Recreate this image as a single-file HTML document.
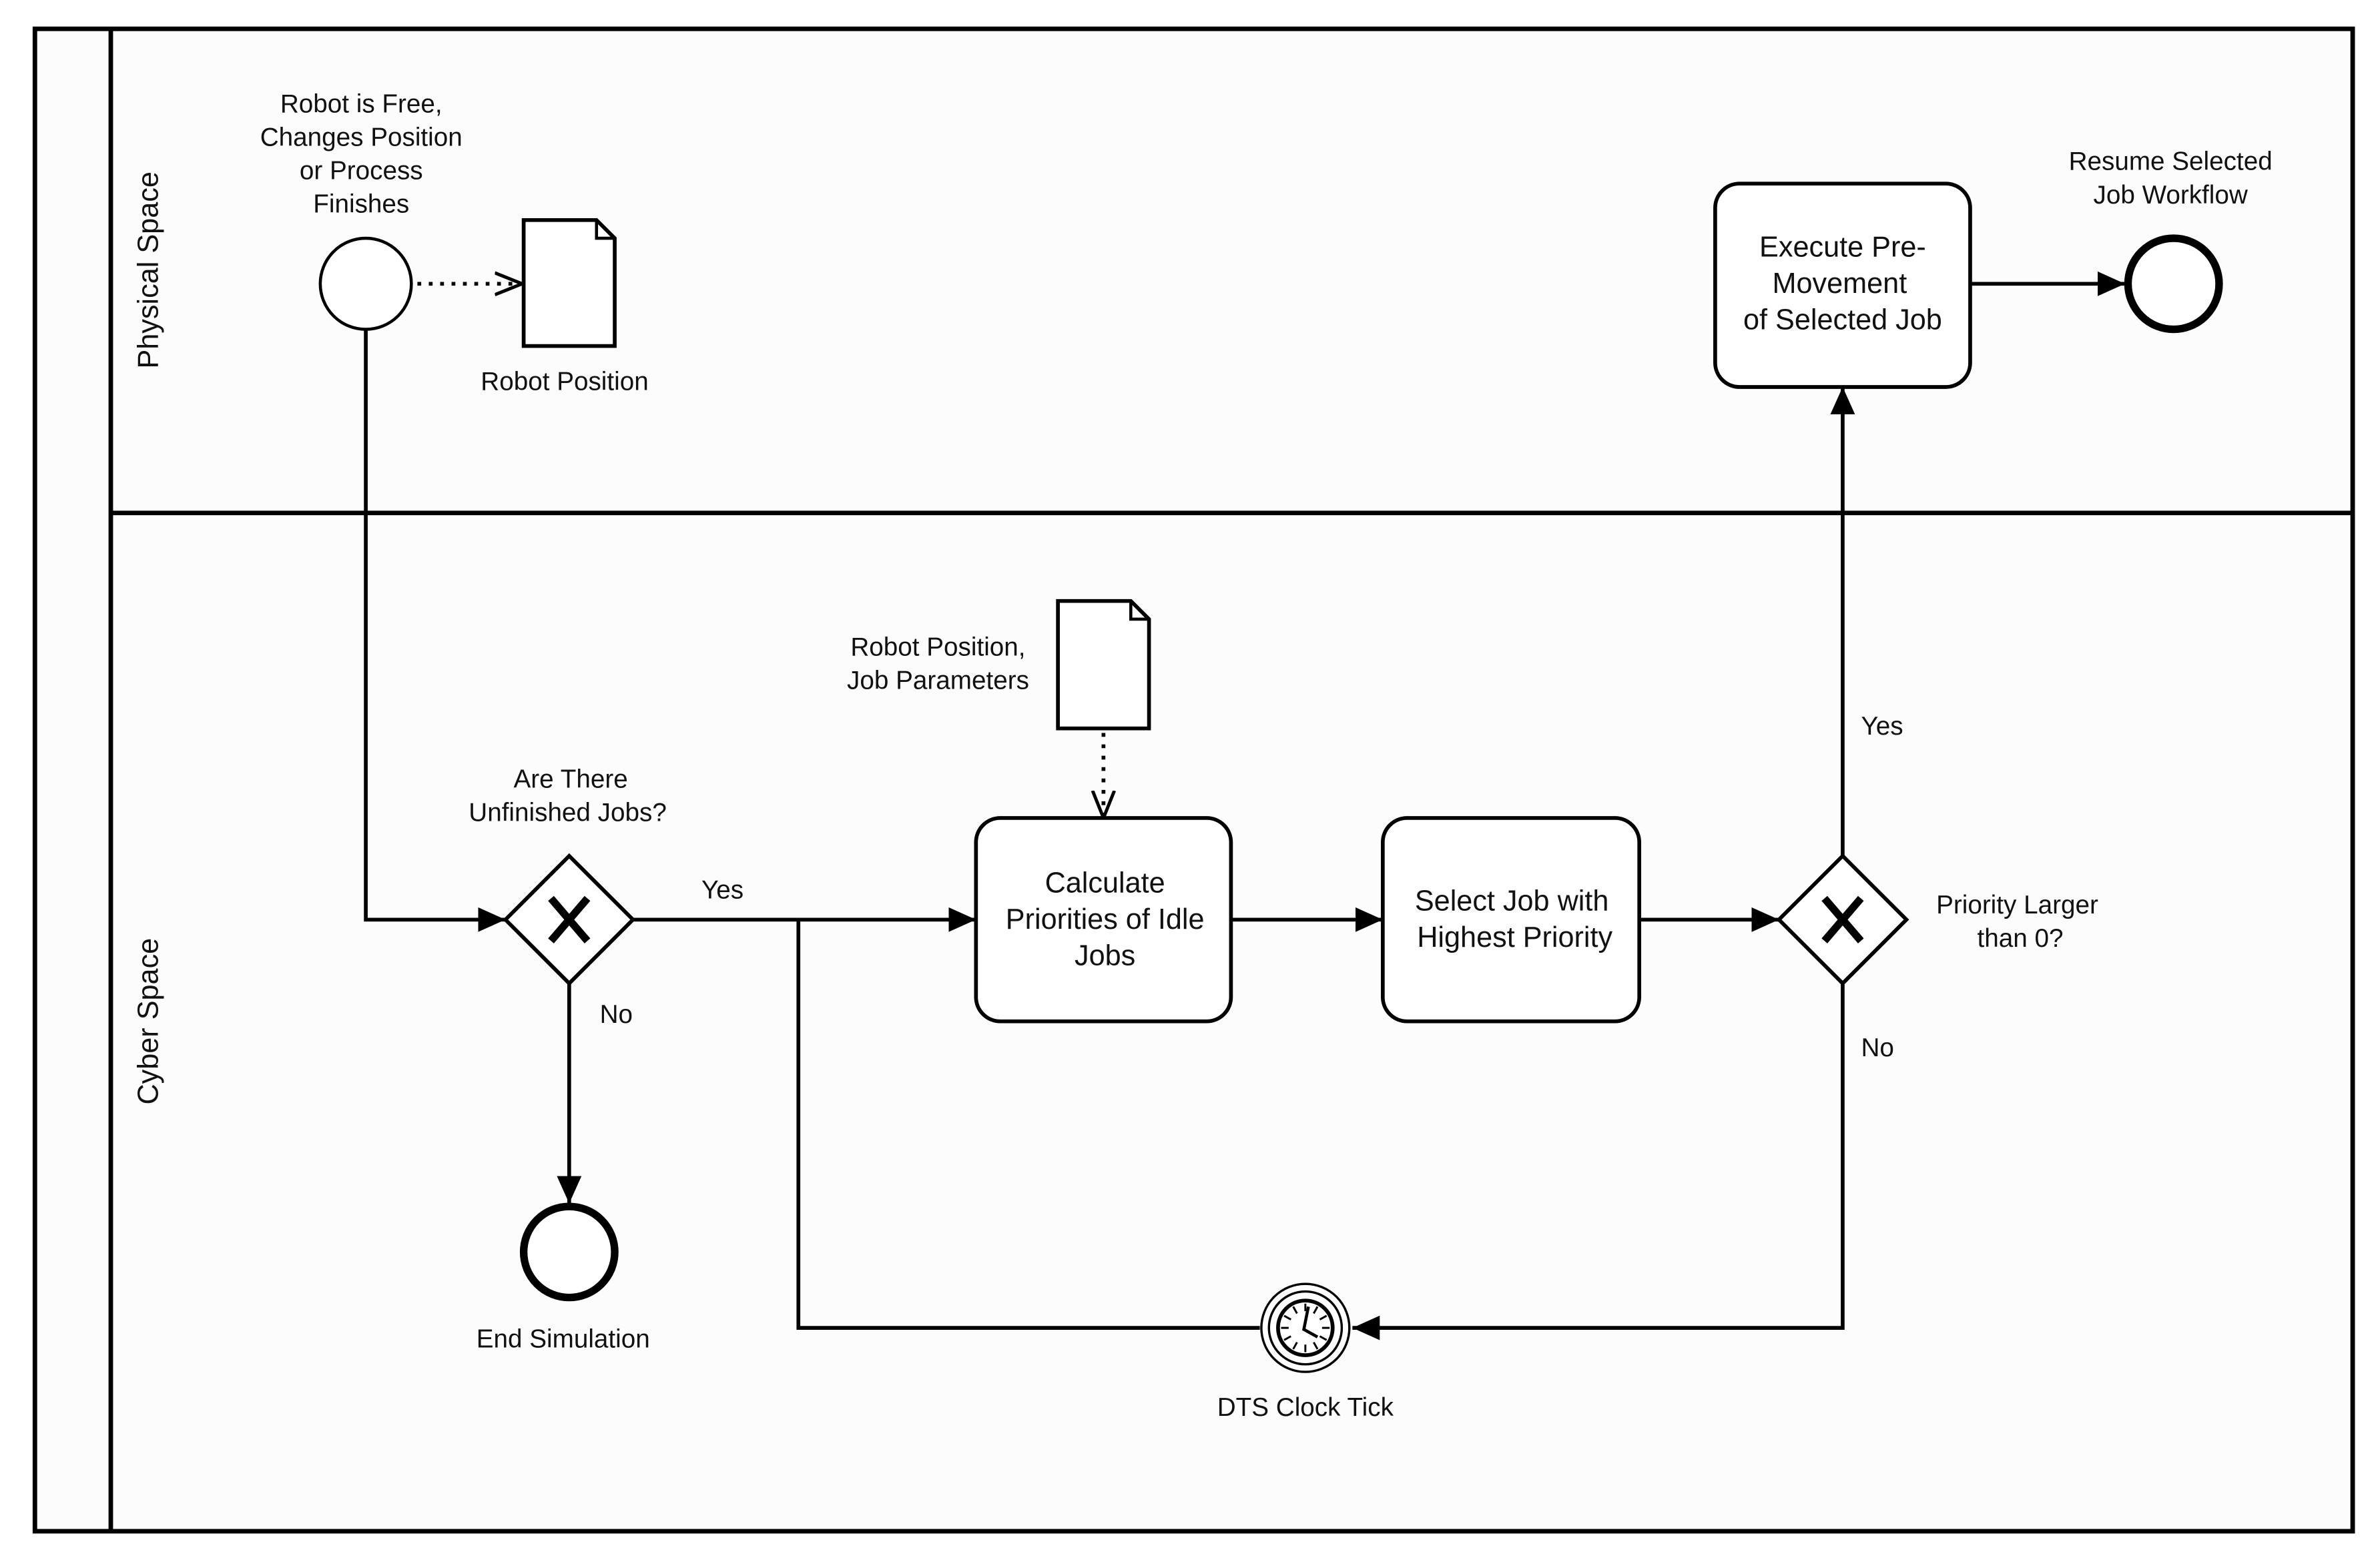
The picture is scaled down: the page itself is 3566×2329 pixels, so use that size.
<!DOCTYPE html>
<html><head><meta charset="utf-8"><style>
html,body{margin:0;padding:0;background:#fff;}
svg{display:block;}
text{font-family:"Liberation Sans",sans-serif;fill:#111;text-anchor:middle;}
</style></head><body>
<svg width="3566" height="2329" viewBox="0 0 1568 1024" preserveAspectRatio="none" xmlns="http://www.w3.org/2000/svg">
<defs>
<marker id="a" viewBox="0 0 10 10" refX="10" refY="5" markerWidth="18" markerHeight="18" markerUnits="userSpaceOnUse" orient="auto">
<path d="M0,0.5 L10,5 L0,9.5 z" fill="#000"/></marker>
<marker id="o" viewBox="0 0 10 10" refX="10" refY="5" markerWidth="18" markerHeight="18" markerUnits="userSpaceOnUse" orient="auto">
<path d="M0,1 L10,5 L0,9" fill="none" stroke="#000" stroke-width="1.2"/></marker>
</defs>
<rect x="0" y="0" width="1568" height="1024" fill="#fff"/>
<rect x="23" y="19" width="1527" height="990" fill="#fcfcfc" stroke="#000" stroke-width="3"/>
<line x1="73" y1="19" x2="73" y2="1009" stroke="#000" stroke-width="3"/>
<line x1="73" y1="338" x2="1550" y2="338" stroke="#000" stroke-width="3"/>
<g font-size="19">
<text transform="translate(104,178) rotate(-90)">Physical Space</text>
<text transform="translate(104,673) rotate(-90)">Cyber Space</text>
</g>
<g fill="none" stroke="#000" stroke-width="2.5">
<polyline points="241,217 241,606 333,606" marker-end="url(#a)"/>
<line x1="375" y1="648" x2="375" y2="793" marker-end="url(#a)"/>
<line x1="417" y1="606" x2="643" y2="606" marker-end="url(#a)"/>
<line x1="811" y1="606" x2="911" y2="606" marker-end="url(#a)"/>
<line x1="1080" y1="606" x2="1172" y2="606" marker-end="url(#a)"/>
<line x1="1214" y1="564" x2="1214" y2="255" marker-end="url(#a)"/>
<line x1="1298" y1="187" x2="1400" y2="187" marker-end="url(#a)"/>
<polyline points="1214,648 1214,875 891,875" marker-end="url(#a)"/>
<polyline points="830,875 526,875 526,606"/>
</g>
<g fill="none" stroke="#000" stroke-width="2.5" stroke-dasharray="2.5,5">
<line x1="275" y1="187" x2="344" y2="187" marker-end="url(#o)"/>
<line x1="727" y1="483" x2="727" y2="539" marker-end="url(#o)"/>
</g>
<circle cx="241" cy="187" r="30" fill="#fff" stroke="#000" stroke-width="2"/>
<path d="M345,145 L393,145 L405,157 L405,228 L345,228 Z" fill="#fff" stroke="#000" stroke-width="2.5"/>
<path d="M393,145 L393,157 L405,157" fill="none" stroke="#000" stroke-width="2"/>
<path d="M697,396 L745,396 L757,408 L757,480 L697,480 Z" fill="#fff" stroke="#000" stroke-width="2.5"/>
<path d="M745,396 L745,408 L757,408" fill="none" stroke="#000" stroke-width="2"/>
<rect x="643" y="539" width="168" height="134" rx="16" fill="#fff" stroke="#000" stroke-width="2.5"/>
<rect x="911" y="539" width="169" height="134" rx="16" fill="#fff" stroke="#000" stroke-width="2.5"/>
<rect x="1130" y="121" width="168" height="134" rx="16" fill="#fff" stroke="#000" stroke-width="2.5"/>
<g stroke="#000">
<path d="M375,564 L417,606 L375,648 L333,606 Z" fill="#fff" stroke-width="2.5"/>
<path d="M363,592 L387,620 M387,592 L363,620" stroke-width="5"/>
<path d="M1214,564 L1256,606 L1214,648 L1172,606 Z" fill="#fff" stroke-width="2.5"/>
<path d="M1202,592 L1226,620 M1226,592 L1202,620" stroke-width="5"/>
</g>
<circle cx="375" cy="825" r="30" fill="#fff" stroke="#000" stroke-width="5"/>
<circle cx="1432" cy="187" r="30" fill="#fff" stroke="#000" stroke-width="5"/>
<circle cx="860" cy="875" r="29" fill="#fff" stroke="#000" stroke-width="1.5"/>
<circle cx="860" cy="875" r="24" fill="none" stroke="#000" stroke-width="1.5"/>
<circle cx="860" cy="875" r="18" fill="#fff" stroke="#000" stroke-width="2.5"/>
<g stroke="#000" stroke-width="1.3">
<line x1="860" y1="859" x2="860" y2="864"/><line x1="860" y1="886" x2="860" y2="891"/>
<line x1="844" y1="875" x2="849" y2="875"/><line x1="871" y1="875" x2="876" y2="875"/>
<line x1="852" y1="861" x2="854.5" y2="865.5"/><line x1="868" y1="861" x2="865.5" y2="865.5"/>
<line x1="852" y1="889" x2="854.5" y2="884.5"/><line x1="868" y1="889" x2="865.5" y2="884.5"/>
<line x1="846" y1="867" x2="850.5" y2="869.5"/><line x1="874" y1="867" x2="869.5" y2="869.5"/>
<line x1="846" y1="883" x2="850.5" y2="880.5"/><line x1="874" y1="883" x2="869.5" y2="880.5"/>
</g>
<polyline points="862,861 859,876 868,881" fill="none" stroke="#000" stroke-width="2"/>
<g font-size="17">
<text x="238" y="74">Robot is Free,</text>
<text x="238" y="96">Changes Position</text>
<text x="238" y="118">or Process</text>
<text x="238" y="140">Finishes</text>
<text x="372" y="257">Robot Position</text>
<text x="618" y="432">Robot Position,</text>
<text x="618" y="454">Job Parameters</text>
<text x="376" y="519">Are There</text>
<text x="374" y="541">Unfinished Jobs?</text>
<text x="476" y="592">Yes</text>
<text x="406" y="674">No</text>
<text x="371" y="888">End Simulation</text>
<text x="860" y="933">DTS Clock Tick</text>
<text x="1329" y="602">Priority Larger</text>
<text x="1331" y="624">than 0?</text>
<text x="1237" y="696">No</text>
<text x="1240" y="484">Yes</text>
<text x="1430" y="112">Resume Selected</text>
<text x="1430" y="134">Job Workflow</text>
</g>
<g font-size="19">
<text x="728" y="588">Calculate</text>
<text x="728" y="612">Priorities of Idle</text>
<text x="728" y="636">Jobs</text>
<text x="996" y="600">Select Job with</text>
<text x="998" y="624">Highest Priority</text>
<text x="1214" y="169">Execute Pre-</text>
<text x="1212" y="193">Movement</text>
<text x="1214" y="217">of  Selected Job</text>
</g>
</svg>
</body></html>
